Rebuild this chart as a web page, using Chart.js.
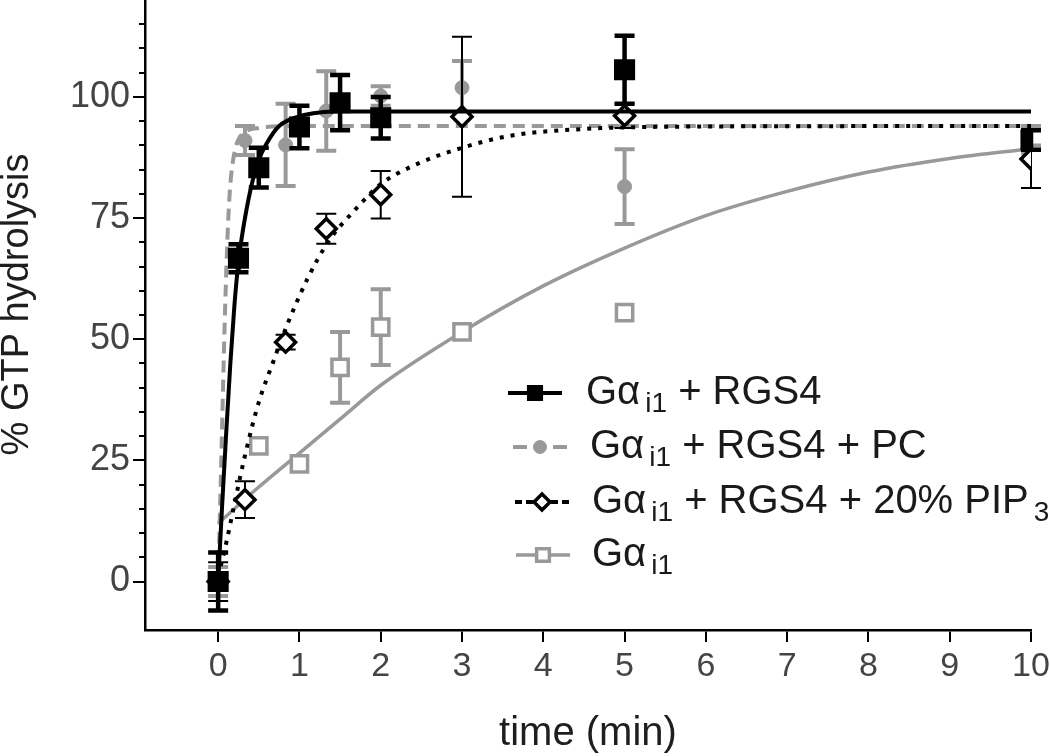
<!DOCTYPE html>
<html>
<head>
<meta charset="utf-8">
<script src="https://cdn.jsdelivr.net/npm/chart.js@4.4.1/dist/chart.umd.min.js"></script>
<style>
    html, body { margin: 0; padding: 0; background: #fff; }
    #wrap { width: 1050px; height: 756px; }
</style>
</head>
<body>
<div id="wrap"><canvas id="chart" width="1050" height="756"></canvas></div>
<script>
// pontos medidos (tempo em min, % hidrólise, erro)
var timeRgs = [0, 0.25, 0.5, 1, 1.5, 2, 5, 10];
var valRgs = [0, 66.7, 85.4, 93.8, 98.8, 95.7, 105.6, 91.1];
var errRgs = [6, 2.9, 4.1, 4.4, 5.7, 4.3, 7, 2];

var timePc = [0, 0.33, 0.83, 1.33, 2, 3, 5, 10];
var valPc = [0, 91, 90.1, 97.1, 100.2, 101.9, 81.5, 92];
var errPc = [3, 3, 8.5, 8.2, 2, 5.5, 7.7, 2];

var timePip = [0, 0.33, 0.83, 1.33, 2, 3, 5, 10];
var valPip = [0, 16.9, 49.4, 72.8, 79.8, 95.9, 96.1, 87.2];
var errPip = [4, 3.8, 1.5, 3.1, 4.9, 16.5, 2.5, 6];

var timeGai = [0, 0.5, 1, 1.5, 2, 3, 5, 10];
var valGai = [0, 28, 24.3, 44.2, 52.5, 51.5, 55.5, 90];
var errGai = [0, 0, 0, 7.3, 7.8, 0, 0, 0];

// curvas de ajuste
var fitRgsT = [0, 0.05, 0.1, 0.15, 0.2, 0.25, 0.3, 0.4, 0.5, 0.6, 0.75, 1, 1.25, 1.5, 2, 10];
var fitRgsV = [0, 16, 31, 45, 57, 66, 72, 81, 87, 90.5, 94, 96, 96.8, 97, 97, 97];

var fitPcT = [0, 0.025, 0.05, 0.075, 0.1, 0.125, 0.15, 0.2, 0.25, 0.33, 0.5, 1, 10];
var fitPcV = [0, 16, 33, 50, 64, 75, 82, 88.5, 91.2, 92.8, 93.6, 94, 94];

var fitPipT = [0, 0.1, 0.2, 0.33, 0.5, 0.67, 0.85, 1.1, 1.35, 1.7, 2, 2.4, 3, 3.6, 4.5, 5, 6, 10];
var fitPipV = [1, 8, 16, 26, 37, 45, 53, 62.5, 70, 77, 82, 85.8, 89.5, 92, 93.4, 93.7, 93.9, 94];

var fitGaiT = [0, 0.5, 1, 1.5, 2, 3, 4, 5, 6, 7, 8, 9, 10];
var fitGaiV = [12, 19.5, 26.5, 33.5, 40.5, 51.5, 61, 68.8, 75.5, 80.5, 84.5, 87.3, 89.3];

var xTicks = [0, 1, 2, 3, 4, 5, 6, 7, 8, 9, 10];
var yTicks = [0, 25, 50, 75, 100];
var yMinorTicks = [5, 10, 15, 20, 30, 35, 40, 45, 55, 60, 65, 70, 80, 85, 90, 95, 105, 110, 115];

// "_xx" = subscrito
var legendNames = ["G\u03b1_i1 + RGS4", "G\u03b1_i1 + RGS4 + PC", "G\u03b1_i1 + RGS4 + 20% PIP_3", "G\u03b1_i1"];

var GREY = "#999999";
var FONT = "'Liberation Sans', Arial, sans-serif";

function toPoints(xs, ys) {
    var out = [];
    for (var i = 0; i < xs.length; i++) {
        out.push({ x: xs[i], y: ys[i] });
    }
    return out;
}

function fitDataset(xs, ys, color, width, dash, order) {
    return {
        data: toPoints(xs, ys),
        showLine: true,
        borderColor: color,
        borderWidth: width,
        borderDash: dash,
        borderCapStyle: "butt",
        cubicInterpolationMode: "monotone",
        pointRadius: 0,
        order: order
    };
}

var pointSets = [
    {
        data: toPoints(timeRgs, valRgs), errors: errRgs, errorColor: "#000", errorWidth: 4.5,
        pointStyle: "rect", pointRadius: 13.5, pointBackgroundColor: "#000", pointBorderColor: "#000",
        pointBorderWidth: 2, showLine: false, order: 1,
        fitColor: "#000", fitWidth: 4, legendRadius: 10, legendDash: null
    },
    {
        data: toPoints(timePc, valPc), errors: errPc, errorColor: GREY, errorWidth: 4,
        pointStyle: "circle", pointRadius: 7, pointBackgroundColor: GREY, pointBorderColor: GREY,
        pointBorderWidth: 1, showLine: false, order: 5,
        fitColor: GREY, fitWidth: 4, legendRadius: 6.5, legendDash: [14, 12]
    },
    {
        data: toPoints(timePip, valPip), errors: errPip, errorColor: "#000", errorWidth: 2,
        pointStyle: "rectRot", pointRadius: 10, pointBackgroundColor: "#fff", pointBorderColor: "#000",
        pointBorderWidth: 3.5, showLine: false, order: 3,
        fitColor: "#000", fitWidth: 4, legendRadius: 8, legendDash: [7, 4]
    },
    {
        data: toPoints(timeGai, valGai), errors: errGai, errorColor: GREY, errorWidth: 4,
        pointStyle: "rect", pointRadius: 11.5, pointBackgroundColor: "#fff", pointBorderColor: GREY,
        pointBorderWidth: 3.5, showLine: false, order: 7,
        fitColor: GREY, fitWidth: 3.5, legendRadius: 9, legendDash: null
    }
];

var fitSets = [
    fitDataset(fitRgsT, fitRgsV, "#000", 4, [], 2),
    fitDataset(fitPcT, fitPcV, GREY, 4, [12, 7], 6),
    fitDataset(fitPipT, fitPipV, "#000", 4, [4, 7], 4),
    fitDataset(fitGaiT, fitGaiV, GREY, 3.5, [], 8)
];

// barras de erro antes de cada conjunto de marcadores
var errorBarPlugin = {
    id: "errorBars",
    beforeDatasetDraw: function (chart, args) {
        var ds = chart.data.datasets[args.index];
        if (!ds.errors) return;
        var ctx = chart.ctx;
        var xs = chart.scales.x, ys = chart.scales.y;
        var cap = 10;
        ctx.save();
        ctx.strokeStyle = ds.errorColor;
        ctx.lineWidth = ds.errorWidth;
        ctx.lineCap = "butt";
        for (var i = 0; i < ds.data.length; i++) {
            var e = ds.errors[i];
            if (!e) continue;
            var px = xs.getPixelForValue(ds.data[i].x);
            var top = ys.getPixelForValue(ds.data[i].y + e);
            var bot = ys.getPixelForValue(ds.data[i].y - e);
            ctx.beginPath();
            ctx.moveTo(px, top);
            ctx.lineTo(px, bot);
            ctx.moveTo(px - cap, top);
            ctx.lineTo(px + cap, top);
            ctx.moveTo(px - cap, bot);
            ctx.lineTo(px + cap, bot);
            ctx.stroke();
        }
        ctx.restore();
    }
};

// ticks menores do eixo y e legenda com subscritos
var extrasPlugin = {
    id: "extras",
    afterDraw: function (chart) {
        var ctx = chart.ctx;
        var ys = chart.scales.y;
        var axisX = chart.chartArea.left;
        ctx.save();
        ctx.strokeStyle = "#000";
        ctx.lineWidth = 2;
        yMinorTicks.forEach(function (v) {
            var py = Math.round(ys.getPixelForValue(v));
            ctx.beginPath();
            ctx.moveTo(axisX - 6, py);
            ctx.lineTo(axisX, py);
            ctx.stroke();
        });

        var rowY = [393, 447, 502, 555];
        var symL = [508, 513, 515, 516];
        var textL = [586, 590, 592, 592];
        for (var r = 0; r < legendNames.length; r++) {
            var ps = pointSets[r];
            var y = rowY[r];
            var x0 = symL[r], x1 = x0 + 54;
            var mid = (x0 + x1) / 2;
            ctx.strokeStyle = ps.fitColor;
            ctx.lineWidth = ps.fitWidth;
            ctx.setLineDash(ps.legendDash || []);
            ctx.beginPath();
            ctx.moveTo(x0, y);
            ctx.lineTo(mid, y);
            ctx.stroke();
            ctx.beginPath();
            ctx.moveTo(x1, y);
            ctx.lineTo(mid, y);
            ctx.stroke();
            ctx.setLineDash([]);
            ctx.fillStyle = ps.pointBackgroundColor;
            ctx.strokeStyle = ps.pointBorderColor;
            ctx.lineWidth = ps.pointBorderWidth;
            Chart.helpers.drawPoint(ctx, {
                pointStyle: ps.pointStyle, radius: ps.legendRadius, rotation: 0,
                borderWidth: ps.pointBorderWidth
            }, mid, y);

            // texto com subscrito
            var parts = legendNames[r].split(/_(\w+)/);
            var tx = textL[r];
            ctx.fillStyle = "#1a1a1a";
            ctx.textBaseline = "middle";
            ctx.textAlign = "left";
            for (var k = 0; k < parts.length; k++) {
                if (k % 2 === 1) {
                    ctx.font = "28px " + FONT;
                    ctx.fillText(parts[k], tx + 5, y + 11);
                    tx += ctx.measureText(parts[k]).width + 5;
                } else {
                    ctx.font = "40px " + FONT;
                    ctx.fillText(parts[k], tx, y);
                    tx += ctx.measureText(parts[k]).width;
                }
            }
        }
        ctx.restore();
    }
};

var ctx = document.getElementById("chart").getContext("2d");
var chart = new Chart(ctx, {
    type: "scatter",
    data: { datasets: fitSets.concat(pointSets) },
    plugins: [errorBarPlugin, extrasPlugin],
    options: {
        responsive: false,
        animation: false,
        layout: { autoPadding: false, padding: { top: 0, right: 19, left: 0, bottom: 0 } },
        plugins: {
            legend: { display: false },
            tooltip: { enabled: false }
        },
        scales: {
            x: {
                type: "linear",
                min: -0.9,
                max: 10,
                afterFit: function (scale) {
                    scale.height = 126;
                    scale.paddingLeft = 0;
                    scale.paddingRight = 0;
                },
                afterBuildTicks: function (scale) {
                    scale.ticks = xTicks.map(function (v) { return { value: v }; });
                },
                border: { color: "#000", width: 2.5 },
                grid: { drawOnChartArea: false, drawTicks: true, tickLength: 12, color: "#000", lineWidth: 2 },
                ticks: {
                    color: "#444",
                    font: { family: FONT, size: 34 },
                    padding: 4,
                    maxRotation: 0,
                    autoSkip: false
                },
                title: {
                    display: true,
                    text: "time (min)",
                    color: "#1e1e1e",
                    font: { family: FONT, size: 40, lineHeight: 1 },
                    padding: { top: 0, bottom: 2 }
                }
            },
            y: {
                type: "linear",
                min: -10,
                max: 120,
                afterFit: function (scale) {
                    scale.width = 145;
                    scale.paddingTop = 0;
                    scale.paddingBottom = 0;
                },
                afterBuildTicks: function (scale) {
                    scale.ticks = yTicks.map(function (v) { return { value: v }; });
                },
                border: { color: "#000", width: 2.5 },
                grid: { drawOnChartArea: false, drawTicks: true, tickLength: 12, color: "#000", lineWidth: 2 },
                ticks: {
                    color: "#444",
                    font: { family: FONT, size: 36 },
                    padding: 3,
                    autoSkip: false
                },
                title: {
                    display: true,
                    text: "  % GTP hydrolysis",
                    color: "#1e1e1e",
                    font: { family: FONT, size: 38, lineHeight: 1 },
                    padding: { top: -1, bottom: 0 }
                }
            }
        }
    }
});
</script>
</body>
</html>
